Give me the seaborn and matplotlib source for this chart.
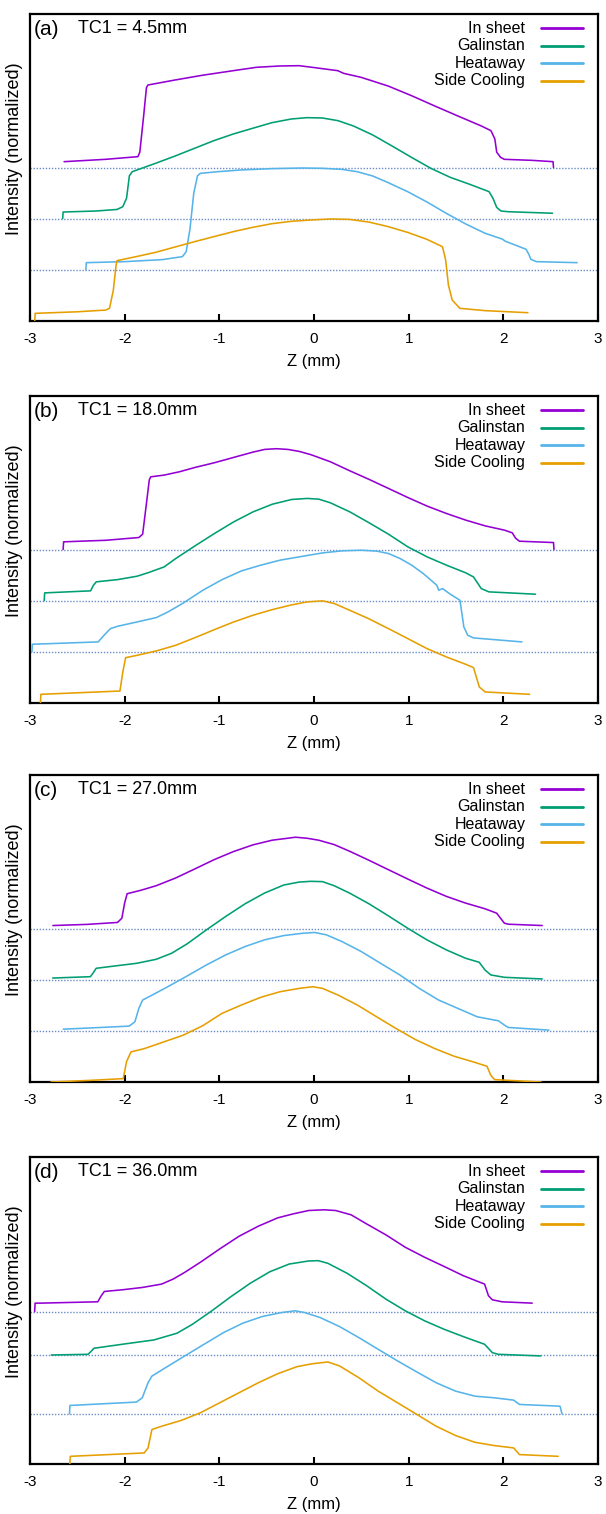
import matplotlib
matplotlib.use("Agg")
import matplotlib.pyplot as plt
import pandas as pd
import seaborn as sns

# Series names and colours
series_names = ["In sheet", "Galinstan", "Heataway", "Side Cooling"]
series_colors = ["#9400d3", "#009e73", "#56b4e9", "#e69f00"]

panel_tags = ["(a)", "(b)", "(c)", "(d)"]
panel_tc1 = ["TC1 = 4.5mm", "TC1 = 18.0mm", "TC1 = 27.0mm", "TC1 = 36.0mm"]

# Vertical offsets of the stacked profiles in each panel
offsets_a = [1.5, 1.0, 0.5, 0.0]
offsets_b = [1.5, 1.0, 0.5, 0.0]
offsets_c = [1.5, 1.0, 0.5, 0.0]
offsets_d = [1.49, 1.065, 0.49, 0.0]

# ---- Panel (a): TC1 = 4.5 mm ----
a_sheet_z = [-2.64, -2.2, -1.86, -1.84, -1.80, -1.77, -1.755, -1.468, -1.181, -0.854, -0.608, -0.362,
             -0.158, 0.006, 0.252, 0.313, 0.498, 0.784, 1.030, 1.276, 1.521, 1.767, 1.869, 1.91, 1.93,
             1.97, 2.01, 2.3, 2.525, 2.53]
a_sheet_v = [0.057, 0.08, 0.106, 0.15, 0.5, 0.78, 0.806, 0.855, 0.901, 0.946, 0.979, 0.992,
             0.995, 0.976, 0.946, 0.920, 0.881, 0.796, 0.702, 0.601, 0.503, 0.406, 0.360, 0.28, 0.15,
             0.10, 0.08, 0.07, 0.057, 0.0]
a_gal_z = [-2.655, -2.65, -2.3, -2.08, -2.02, -1.98, -1.95, -1.92, -1.673, -1.468, -1.263, -1.059,
           -0.854, -0.649, -0.444, -0.240, -0.076, 0.088, 0.252, 0.416, 0.620, 0.825, 1.030, 1.234,
           1.439, 1.644, 1.849, 1.89, 1.93, 1.975, 2.05, 2.52]
a_gal_v = [0.0, 0.065, 0.075, 0.09, 0.117, 0.2, 0.42, 0.459, 0.541, 0.612, 0.687, 0.762,
           0.827, 0.883, 0.938, 0.974, 0.987, 0.984, 0.958, 0.906, 0.818, 0.710, 0.599, 0.492,
           0.404, 0.336, 0.264, 0.2, 0.11, 0.075, 0.068, 0.053]
a_heat_z = [-2.41, -2.405, -2.0, -1.6, -1.39, -1.35, -1.31, -1.27, -1.23, -1.20, -1.018, -0.772,
            -0.444, -0.117, 0.088, 0.293, 0.457, 0.620, 0.784, 0.989, 1.193, 1.398, 1.603, 1.808,
            1.99, 2.02, 2.24, 2.27, 2.29, 2.35, 2.78]
a_heat_v = [0.0, 0.07, 0.08, 0.1, 0.129, 0.178, 0.4, 0.75, 0.92, 0.943, 0.959, 0.976,
            0.989, 0.995, 0.992, 0.982, 0.959, 0.917, 0.852, 0.764, 0.663, 0.552, 0.448, 0.357,
            0.30, 0.28, 0.201, 0.15, 0.103, 0.08, 0.07]
a_side_z = [-2.95, -2.945, -2.5, -2.20, -2.16, -2.12, -2.09, -2.08, -1.878, -1.673, -1.468, -1.263,
            -1.059, -0.854, -0.649, -0.444, -0.240, -0.035, 0.170, 0.375, 0.579, 0.784, 0.989,
            1.193, 1.357, 1.39, 1.42, 1.46, 1.54, 1.81, 2.26]
a_side_v = [0.0, 0.075, 0.09, 0.107, 0.124, 0.3, 0.55, 0.59, 0.629, 0.671, 0.723, 0.775,
            0.824, 0.873, 0.915, 0.951, 0.974, 0.987, 0.997, 0.993, 0.967, 0.922, 0.866,
            0.798, 0.726, 0.6, 0.35, 0.205, 0.124, 0.101, 0.081]

# ---- Panel (b): TC1 = 18.0 mm ----
b_sheet_z = [-2.65, -2.645, -2.2, -1.85, -1.81, -1.77, -1.74, -1.725, -1.583, -1.42, -1.256, -1.052,
             -0.848, -0.643, -0.521, -0.398, -0.276, -0.153, -0.031, 0.174, 0.378, 0.582, 0.786,
             0.991, 1.195, 1.399, 1.603, 1.808, 2.012, 2.094, 2.13, 2.17, 2.53, 2.535]
b_sheet_v = [0.0, 0.075, 0.09, 0.117, 0.15, 0.45, 0.68, 0.71, 0.727, 0.760, 0.802, 0.848,
             0.900, 0.952, 0.978, 0.985, 0.978, 0.958, 0.926, 0.857, 0.769, 0.685, 0.597,
             0.508, 0.424, 0.352, 0.287, 0.231, 0.189, 0.163, 0.11, 0.081, 0.068, 0.0]
b_gal_z = [-2.85, -2.845, -2.36, -2.33, -2.30, -2.073, -1.869, -1.746, -1.583, -1.46, -1.256, -1.052,
           -0.848, -0.643, -0.439, -0.235, -0.071, 0.051, 0.174, 0.378, 0.582, 0.786, 0.991, 1.195,
           1.399, 1.603, 1.685, 1.767, 1.848, 2.34]
b_gal_v = [0.0, 0.076, 0.096, 0.15, 0.184, 0.206, 0.239, 0.275, 0.330, 0.412, 0.536, 0.656,
           0.770, 0.868, 0.943, 0.989, 0.999, 0.992, 0.956, 0.868, 0.761, 0.650, 0.526, 0.428,
           0.347, 0.272, 0.232, 0.118, 0.086, 0.063]
b_heat_z = [-2.98, -2.975, -2.28, -2.22, -2.15, -2.073, -1.869, -1.665, -1.542, -1.379, -1.174,
            -0.970, -0.766, -0.562, -0.357, -0.112, 0.092, 0.296, 0.500, 0.664, 0.786, 0.909,
            1.032, 1.154, 1.256, 1.297, 1.318, 1.358, 1.440, 1.542, 1.583, 1.624, 1.685, 2.196]
b_heat_v = [0.0, 0.074, 0.097, 0.16, 0.227, 0.250, 0.292, 0.335, 0.390, 0.478, 0.602,
            0.706, 0.791, 0.847, 0.896, 0.935, 0.967, 0.987, 0.993, 0.984, 0.961, 0.912,
            0.847, 0.765, 0.684, 0.651, 0.602, 0.618, 0.563, 0.504, 0.243, 0.162, 0.136, 0.097]
b_side_z = [-2.89, -2.885, -2.05, -2.02, -1.99, -1.869, -1.665, -1.46, -1.256, -1.052, -0.848,
            -0.643, -0.439, -0.235, -0.071, 0.092, 0.214, 0.378, 0.582, 0.786, 0.991, 1.195,
            1.399, 1.603, 1.685, 1.746, 1.808, 2.277]
b_side_v = [0.0, 0.085, 0.117, 0.3, 0.443, 0.466, 0.509, 0.564, 0.639, 0.717, 0.792,
            0.858, 0.913, 0.959, 0.988, 0.998, 0.972, 0.906, 0.822, 0.727, 0.629, 0.531,
            0.450, 0.378, 0.346, 0.157, 0.108, 0.085]

# ---- Panel (c): TC1 = 27.0 mm ----
c_sheet_z = [-2.758, -2.4, -2.076, -2.03, -2.0, -1.974, -1.831, -1.667, -1.463, -1.259, -1.054,
             -0.850, -0.646, -0.441, -0.278, -0.196, -0.074, 0.049, 0.213, 0.376, 0.580, 0.785,
             0.989, 1.193, 1.398, 1.602, 1.806, 1.929, 2.011, 2.052, 2.411]
c_sheet_v = [0.029, 0.04, 0.059, 0.1, 0.25, 0.340, 0.373, 0.418, 0.493, 0.582, 0.673,
             0.752, 0.817, 0.863, 0.882, 0.892, 0.882, 0.863, 0.820, 0.755, 0.667, 0.575,
             0.484, 0.395, 0.314, 0.248, 0.193, 0.150, 0.052, 0.042, 0.029]
c_gal_z = [-2.76, -2.362, -2.33, -2.301, -2.076, -1.872, -1.667, -1.504, -1.340, -1.136, -0.932,
           -0.727, -0.523, -0.319, -0.155, -0.033, 0.090, 0.213, 0.376, 0.580, 0.785, 0.989,
           1.193, 1.398, 1.602, 1.745, 1.806, 1.868, 2.011, 2.411]
c_gal_v = [0.016, 0.029, 0.07, 0.111, 0.137, 0.160, 0.199, 0.258, 0.350, 0.487, 0.618,
           0.742, 0.846, 0.925, 0.954, 0.961, 0.958, 0.918, 0.846, 0.742, 0.624, 0.503,
           0.389, 0.291, 0.209, 0.170, 0.095, 0.046, 0.023, 0.007]
c_heat_z = [-2.648, -1.953, -1.892, -1.85, -1.810, -1.708, -1.545, -1.340, -1.136, -0.932, -0.727,
            -0.523, -0.319, -0.114, 0.008, 0.131, 0.294, 0.499, 0.703, 0.907, 1.112, 1.316,
            1.520, 1.725, 1.949, 2.011, 2.052, 2.481]
c_heat_v = [0.016, 0.046, 0.088, 0.22, 0.301, 0.350, 0.431, 0.536, 0.644, 0.742, 0.824,
            0.889, 0.931, 0.954, 0.961, 0.938, 0.873, 0.775, 0.660, 0.546, 0.415, 0.301,
            0.219, 0.137, 0.098, 0.056, 0.033, 0.007]
c_side_z = [-2.779, -2.362, -2.015, -1.98, -1.933, -1.790, -1.586, -1.381, -1.177, -0.973, -0.768,
            -0.564, -0.360, -0.155, -0.012, 0.090, 0.253, 0.458, 0.662, 0.866, 1.071, 1.275,
            1.479, 1.684, 1.827, 1.868, 1.908, 2.399]
c_side_v = [0.0, 0.016, 0.033, 0.2, 0.294, 0.327, 0.392, 0.458, 0.549, 0.670, 0.752,
            0.827, 0.882, 0.915, 0.931, 0.915, 0.850, 0.752, 0.637, 0.523, 0.415, 0.327,
            0.252, 0.196, 0.154, 0.065, 0.023, 0.0]

# ---- Panel (d): TC1 = 36.0 mm ----
d_sheet_z = [-2.951, -2.946, -2.889, -2.284, -2.25, -2.215, -2.019, -1.814, -1.610, -1.488, -1.365,
             -1.201, -0.997, -0.793, -0.588, -0.384, -0.221, -0.057, 0.106, 0.229, 0.392, 0.556,
             0.760, 0.964, 1.169, 1.373, 1.577, 1.802, 1.843, 1.884, 1.986, 2.305]
d_sheet_v = [0.0, 0.082, 0.082, 0.095, 0.15, 0.196, 0.213, 0.235, 0.268, 0.317, 0.383,
             0.481, 0.611, 0.735, 0.834, 0.915, 0.954, 0.987, 0.994, 0.987, 0.945, 0.856,
             0.749, 0.628, 0.530, 0.441, 0.350, 0.268, 0.154, 0.115, 0.095, 0.082]
d_gal_z = [-2.775, -2.387, -2.355, -2.325, -1.978, -1.692, -1.447, -1.283, -1.079, -0.875, -0.670,
           -0.466, -0.262, -0.057, 0.045, 0.147, 0.351, 0.556, 0.760, 0.964, 1.169, 1.373,
           1.577, 1.802, 1.884, 1.945, 2.395]
d_gal_v = [0.0, 0.007, 0.035, 0.066, 0.111, 0.147, 0.213, 0.301, 0.432, 0.572, 0.703,
           0.814, 0.889, 0.919, 0.922, 0.896, 0.798, 0.677, 0.546, 0.432, 0.334, 0.252,
           0.180, 0.105, 0.023, 0.007, -0.009]
d_heat_z = [-2.583, -2.578, -1.876, -1.814, -1.753, -1.712, -1.569, -1.365, -1.161, -0.956, -0.752,
            -0.548, -0.343, -0.200, -0.098, 0.065, 0.270, 0.474, 0.678, 0.883, 1.087, 1.291,
            1.496, 1.700, 1.904, 2.109, 2.170, 2.599, 2.620]
d_heat_v = [0.0, 0.082, 0.115, 0.157, 0.304, 0.369, 0.451, 0.566, 0.680, 0.794, 0.886,
            0.951, 0.990, 1.007, 0.990, 0.941, 0.853, 0.745, 0.631, 0.517, 0.409, 0.304,
            0.222, 0.173, 0.157, 0.134, 0.092, 0.075, 0.0]
d_side_z = [-2.579, -2.574, -1.794, -1.753, -1.712, -1.610, -1.406, -1.201, -0.997, -0.793, -0.588,
            -0.384, -0.180, -0.016, 0.147, 0.270, 0.474, 0.678, 0.883, 1.087, 1.291, 1.496,
            1.700, 1.904, 2.109, 2.170, 2.579]
d_side_v = [0.0, 0.075, 0.108, 0.157, 0.337, 0.369, 0.425, 0.500, 0.598, 0.696, 0.794,
            0.882, 0.951, 0.980, 0.997, 0.958, 0.843, 0.712, 0.598, 0.484, 0.369, 0.278,
            0.212, 0.180, 0.157, 0.092, 0.075]

panels = [
    (offsets_a, [(a_sheet_z, a_sheet_v), (a_gal_z, a_gal_v), (a_heat_z, a_heat_v), (a_side_z, a_side_v)]),
    (offsets_b, [(b_sheet_z, b_sheet_v), (b_gal_z, b_gal_v), (b_heat_z, b_heat_v), (b_side_z, b_side_v)]),
    (offsets_c, [(c_sheet_z, c_sheet_v), (c_gal_z, c_gal_v), (c_heat_z, c_heat_v), (c_side_z, c_side_v)]),
    (offsets_d, [(d_sheet_z, d_sheet_v), (d_gal_z, d_gal_v), (d_heat_z, d_heat_v), (d_side_z, d_side_v)]),
]

x_ticks = [-3, -2, -1, 0, 1, 2, 3]

sns.set_style("white")
plt.rcParams["font.family"] = ["Liberation Sans", "DejaVu Sans"]
plt.rcParams["axes.unicode_minus"] = False
plt.rcParams["text.color"] = "black"
plt.rcParams["axes.labelcolor"] = "black"
plt.rcParams["xtick.color"] = "black"
plt.rcParams["xtick.labelcolor"] = "black"

W, H = 606, 1514
fig = plt.figure(figsize=(W / 100, H / 100), dpi=100)

ax_left, ax_right = 30, 598
ax_h = 307
ax_bottoms = [321, 703, 1082, 1464]

for i, (offsets, curves) in enumerate(panels):
    bottom_px = ax_bottoms[i]
    ax = fig.add_axes([ax_left / W, (H - bottom_px) / H, (ax_right - ax_left) / W, ax_h / H])

    # dotted reference lines at the baselines of the shifted profiles
    for off in offsets:
        if off > 0:
            ax.axhline(off, color="#6a8cc8", lw=1.0, ls=(0, (1, 1.2)), zorder=1)

    for k, (z, v) in enumerate(curves):
        df = pd.DataFrame({"Z": z, "I": [val + offsets[k] for val in v]})
        sns.lineplot(data=df, x="Z", y="I", ax=ax, color=series_colors[k], lw=1.15,
                     sort=False, estimator=None, zorder=3)

    ax.set_xlim(-3, 3)
    ax.set_ylim(0, 3)
    ax.set_xticks(x_ticks)
    ax.set_xticklabels([str(t) for t in x_ticks], fontsize=11)
    ax.set_yticks([])
    ax.tick_params(axis="x", direction="in", length=5, width=1.5, top=False, bottom=True, pad=8,
                   colors="black")
    for sp in ax.spines.values():
        sp.set_linewidth(1.6)
        sp.set_color("black")
    ax.set_xlabel("Z (mm)", fontsize=12, labelpad=6, color="black")
    ax.set_ylabel("Intensity (normalized)", fontsize=13, va="center", color="black")
    ax.yaxis.set_label_coords(-0.027, 0.56)

    # panel tag and TC1 position
    ax.text(0.006, 0.948, panel_tags[i], transform=ax.transAxes, fontsize=15, va="center",
            ha="left", color="black")
    ax.text(0.085, 0.952, panel_tc1[i], transform=ax.transAxes, fontsize=13, va="center",
            ha="left", color="black")

    # key: right-aligned labels with line samples on their right
    for k, name in enumerate(series_names):
        yk = 0.953 - 0.057 * k
        ax.text(0.872, yk, name, transform=ax.transAxes, fontsize=11.5, va="center", ha="right",
                color="black")
        ax.plot([0.899, 0.973], [yk, yk], transform=ax.transAxes, color=series_colors[k], lw=2.0)

fig.savefig("out.png", dpi=100)
